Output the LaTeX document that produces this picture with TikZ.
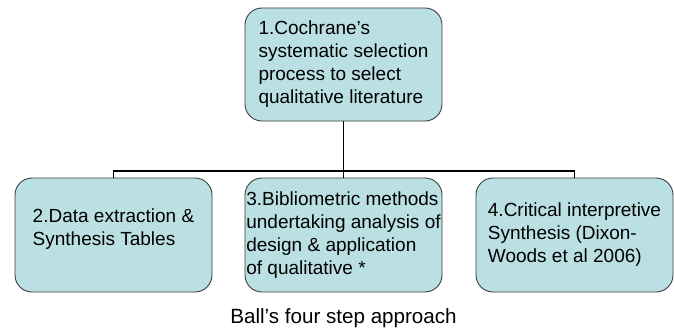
\documentclass[tikz,border=0pt]{standalone}
\usepackage{fontspec}
\setmainfont{Liberation Sans}
\definecolor{boxfill}{RGB}{187,224,227}
\definecolor{boxline}{RGB}{60,60,60}
\begin{document}
\begin{tikzpicture}[x=1pt,y=-1pt,
  stepbox/.style={draw=boxline, line width=0.9pt, fill=boxfill, rounded corners=17pt,
    minimum width=197pt, minimum height=114pt, inner sep=0pt, align=left,
    font=\fontsize{19}{23}\selectfont},
  conn/.style={draw=black, line width=1.8pt}]
\useasboundingbox (0,0) rectangle (674,329);
\node[stepbox, minimum height=113pt] (b1) at (343.5,64.5) {1.Cochrane’s\\systematic selection\\process to select\\qualitative literature};
\node[stepbox] (b2) at (113.5,235) {\raisebox{6pt}[\height][\depth]{\begin{tabular}{@{}l@{}}2.Data extraction \&\\Synthesis Tables\end{tabular}}};
\node[stepbox] (b3) at (343.5,235) {3.Bibliometric methods\\undertaking analysis of\\design \& application\\of qualitative *};
\node[stepbox] (b4) at (574.5,235) {4.Critical interpretive\\Synthesis (Dixon-\\Woods et al 2006)};
\coordinate (bus) at (343.5,171);
\draw[conn] (b1.south) -- (b3.north);
\draw[conn] (b2.north) |- (bus) -| (b4.north);
\node[font=\fontsize{20.6}{24}\selectfont] (cap) at (343.5,318) {Ball’s four step approach};
\end{tikzpicture}
\end{document}
